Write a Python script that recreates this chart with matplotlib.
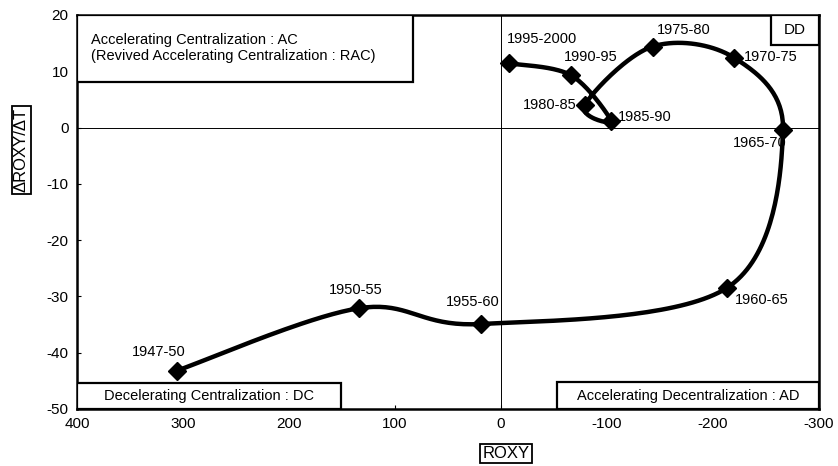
import matplotlib.pyplot as plt
import numpy as np
from matplotlib.patches import Rectangle

plt.rcParams["font.family"] = ["Liberation Sans", "DejaVu Sans"]
plt.rcParams["axes.unicode_minus"] = False

# periods and their (ROXY, dROXY/dT) values
periods = ["1947-50", "1950-55", "1955-60", "1960-65", "1965-70", "1970-75",
           "1975-80", "1980-85", "1985-90", "1990-95", "1995-2000"]
roxy = [306, 134, 19, -213, -266, -220, -143, -79, -104, -66, -8]
droxy = [-43.2, -32.1, -34.9, -28.5, -0.4, 12.4, 14.4, 4.0, 1.2, 9.3, 11.4]

# label placement (offset in pixels, horizontal alignment)
label_pos = [(-18, 19, "center"), (-3, 18, "center"), (-8, 22, "center"),
             (8, -12, "left"), (4, -13, "right"), (10, 1, "left"),
             (31, 17, "center"), (-8, 0, "right"), (7, 4, "left"),
             (20, 18, "center"), (33, 24, "center")]


def catmull_rom(pts, n=40):
    # excel-like smoothed line: bezier with control points from neighbours
    pts = np.asarray(pts, dtype=float)
    ext = np.vstack([pts[0], pts, pts[-1]])
    out = []
    for i in range(1, len(ext) - 2):
        p0, p1, p2, p3 = ext[i - 1], ext[i], ext[i + 1], ext[i + 2]
        c1 = p1 + (p2 - p0) / 6
        c2 = p2 - (p3 - p1) / 6
        t = np.linspace(0, 1, n)[:, None]
        seg = ((1 - t) ** 3) * p1 + 3 * ((1 - t) ** 2) * t * c1 + 3 * (1 - t) * t ** 2 * c2 + t ** 3 * p2
        out.append(seg)
    return np.vstack(out)


W, H = 838, 466
fig = plt.figure(figsize=(W / 100, H / 100), dpi=100)
ax = fig.add_axes([77 / W, 1 - 409 / H, (819 - 77) / W, (409 - 15) / H])
ax.set_xlim(400, -300)
ax.set_ylim(-50, 20)
ax.set_xticks(np.arange(400, -301, -100))
ax.set_yticks(np.arange(-50, 21, 10))
ax.tick_params(direction="in", length=3, width=0.8, labelsize=11, pad=6)
for sp in ax.spines.values():
    sp.set_linewidth(1.8)

ax.axhline(0, color="black", lw=0.7)
ax.axvline(0, color="black", lw=0.7)

# smooth the curve in display space
disp = ax.transData.transform(np.column_stack([roxy, droxy]))
curve = ax.transData.inverted().transform(catmull_rom(disp))
ax.plot(curve[:, 0], curve[:, 1], color="black", lw=3.2, solid_capstyle="round", zorder=3)
ax.plot(roxy, droxy, linestyle="none", marker="D", color="black", markersize=9, zorder=4)

for name, x, y, (dx, dy, ha) in zip(periods, roxy, droxy, label_pos):
    ax.annotate(name, (x, y), xytext=(dx, dy), textcoords="offset pixels",
                ha=ha, va="center", fontsize=10.5)

# quadrant boxes (axes coords)
def box(x0, y0, x1, y1):
    ax.add_patch(Rectangle((x0, y0), x1 - x0, y1 - y0, transform=ax.transAxes,
                           facecolor="white", edgecolor="black", lw=1.6, zorder=5))

aw, ah = 819 - 77, 409 - 15
def ax_x(px):
    return (px - 77) / aw
def ax_y(py):
    return (409 - py) / ah

box(0, ax_y(82), ax_x(413), 1)
ax.text(ax_x(91), ax_y(48), "Accelerating Centralization : AC\n(Revived Accelerating Centralization : RAC)",
        transform=ax.transAxes, ha="left", va="center", fontsize=10.5, linespacing=1.1, zorder=6)
box(ax_x(771), ax_y(45), 1, 1)
ax.text(ax_x(795), ax_y(30), "DD", transform=ax.transAxes, ha="center", va="center", fontsize=11, zorder=6)
box(0, 0, ax_x(341), ax_y(383))
ax.text(ax_x(209), ax_y(396), "Decelerating Centralization : DC", transform=ax.transAxes,
        ha="center", va="center", fontsize=10.5, zorder=6)
box(ax_x(557), 0, 1, ax_y(382))
ax.text(ax_x(688), ax_y(396), "Accelerating Decentralization : AD", transform=ax.transAxes,
        ha="center", va="center", fontsize=10.5, zorder=6)

# boxed axis titles
fig.text(506 / W, 1 - 453 / H, "ROXY", ha="center", va="center", fontsize=12,
         bbox=dict(boxstyle="square,pad=0.12", facecolor="white", edgecolor="black", lw=1.3))
fig.text(21 / W, 1 - 150 / H, "\u0394ROXY/\u0394T", ha="center", va="center", rotation=90, fontsize=12,
         bbox=dict(boxstyle="square,pad=0.12", facecolor="white", edgecolor="black", lw=1.3))

fig.savefig("out.png", dpi=100)
